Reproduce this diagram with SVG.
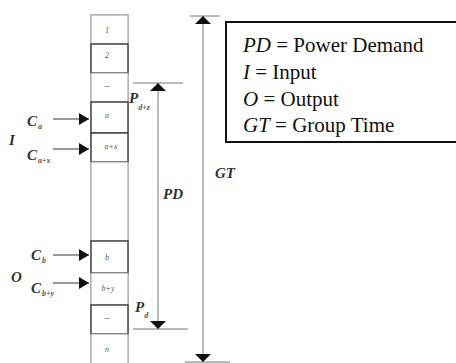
<svg xmlns="http://www.w3.org/2000/svg" width="456" height="363" viewBox="0 0 456 363">
<defs>
<marker id="ah" viewBox="0 0 10 12" refX="10" refY="6" markerWidth="10" markerHeight="12" markerUnits="userSpaceOnUse" orient="auto"><path d="M0,0 L10,6 L0,12 Z" fill="#111"/></marker>
<marker id="av" viewBox="0 0 8 16" refX="8" refY="8" markerWidth="8" markerHeight="16" markerUnits="userSpaceOnUse" orient="auto-start-reverse"><path d="M0,0 L8,8 L0,16 Z" fill="#111"/></marker>
<style>
.cell{fill:#fff;stroke:#999;stroke-width:1}
.hcell{fill:#fff;stroke:#444;stroke-width:1.5}
.ct{font-family:"Liberation Serif",serif;font-style:italic;font-size:8px;fill:#555;text-anchor:middle}
.lbl{font-family:"Liberation Serif",serif;font-style:italic;font-weight:bold;font-size:15px;fill:#333}
.sub{font-family:"Liberation Serif",serif;font-style:italic;font-size:8px;fill:#555}
.line{stroke:#777;stroke-width:1;fill:none}
.arr{stroke:#333;stroke-width:1;fill:none}
.leg{font-family:"Liberation Serif",serif;font-size:21px;fill:#111}
</style>
</defs>
<rect width="456" height="363" fill="#fff"/>
<g id="column">
<rect class="cell" x="91" y="15" width="37" height="349"/>
<rect class="cell" x="91" y="15" width="37" height="29"/>
<rect class="hcell" x="91" y="44" width="37" height="29"/>
<rect class="cell" x="91" y="73" width="37" height="29"/>
<rect class="hcell" x="91" y="102" width="37" height="31"/>
<rect class="hcell" x="91" y="133" width="37" height="29"/>
<rect class="cell" x="91" y="162" width="37" height="79"/>
<rect class="hcell" x="91" y="241" width="37" height="32"/>
<rect class="cell" x="91" y="273" width="37" height="32"/>
<rect class="hcell" x="91" y="305" width="37" height="29"/>
<rect class="cell" x="91" y="334" width="37" height="30"/>
<text class="ct" x="107" y="33">1</text>
<text class="ct" x="107" y="58">2</text>
<text class="ct" x="107" y="89">--</text>
<text class="ct" x="107" y="118">a</text>
<text class="ct" x="111" y="149">a+x</text>
<text class="ct" x="107" y="260">b</text>
<text class="ct" x="108" y="291">b+y</text>
<text class="ct" x="107" y="321">--</text>
<text class="ct" x="107" y="352">n</text>
</g>
<g id="connectors">
<line class="arr" x1="53" y1="119" x2="89" y2="119" marker-end="url(#ah)"/>
<line class="arr" x1="53" y1="149" x2="89" y2="149" marker-end="url(#ah)"/>
<line class="arr" x1="53" y1="255" x2="89" y2="255" marker-end="url(#ah)"/>
<line class="arr" x1="53" y1="283" x2="89" y2="283" marker-end="url(#ah)"/>
<line class="line" x1="133" y1="83" x2="183" y2="83"/>
<line class="line" x1="133" y1="329" x2="188" y2="329"/>
<line class="line" x1="158" y1="83" x2="158" y2="329" marker-start="url(#av)" marker-end="url(#av)"/>
<line class="line" x1="190" y1="16" x2="220" y2="16"/>
<line class="line" x1="185" y1="362" x2="230" y2="362"/>
<line class="line" x1="203" y1="16" x2="203" y2="362" marker-start="url(#av)" marker-end="url(#av)"/>
</g>
<g id="labels">
<text class="lbl" x="27" y="126">C<tspan class="sub" dx="1" dy="3">a</tspan></text>
<text class="lbl" x="9" y="145">I</text>
<text class="lbl" x="27" y="160">C<tspan class="sub" dx="1" dy="3">a+x</tspan></text>
<text class="lbl" x="31" y="260">C<tspan class="sub" dx="1" dy="3">b</tspan></text>
<text class="lbl" x="11" y="282">O</text>
<text class="lbl" x="31" y="293">C<tspan class="sub" dx="1" dy="3">b+y</tspan></text>
<text class="lbl" x="129" y="103">P<tspan class="sub" dx="0" dy="7">d+z</tspan></text>
<text class="lbl" x="135" y="312">P<tspan class="sub" dx="0" dy="6">d</tspan></text>
<text class="lbl" x="163" y="199">PD</text>
<text class="lbl" x="215" y="178">GT</text>
</g>
<g id="legend">
<rect x="226" y="22" width="240" height="120" fill="#fff" stroke="#111" stroke-width="2"/>
<text class="leg" x="243" y="52"><tspan font-style="italic">PD</tspan> = Power Demand</text>
<text class="leg" x="243" y="79"><tspan font-style="italic">I</tspan> = Input</text>
<text class="leg" x="243" y="106"><tspan font-style="italic">O</tspan> = Output</text>
<text class="leg" x="243" y="132"><tspan font-style="italic">GT</tspan> = Group Time</text>
</g>
</svg>
